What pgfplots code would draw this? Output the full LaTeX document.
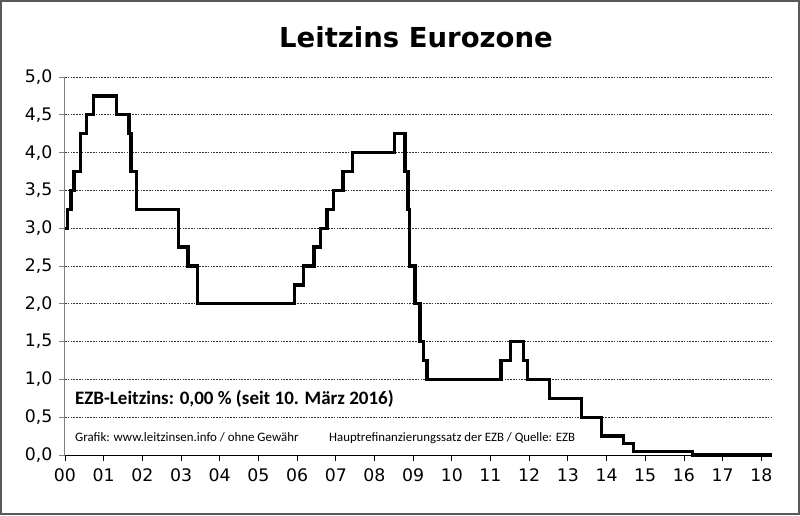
\documentclass[border=0pt]{standalone}
\usepackage{pgfplots}
\pgfplotsset{compat=1.18}
\usepackage{fontspec}
\setmainfont{DejaVu Sans}
\newfontfamily\carlito{Carlito}
\begin{document}
\begin{tikzpicture}[x=1pt,y=1pt]
\useasboundingbox (0,0) rectangle (800,515);
\fill[white] (0,0) rectangle (800,515);
\draw[black!65, line width=1.2pt] (1,1) rectangle (799,514);
\begin{axis}[
  at={(65pt,60pt)}, anchor=south west,
  scale only axis, width=706.7pt, height=378pt,
  xmin=0, xmax=18.27, ymin=0, ymax=5,
  axis x line*=bottom, axis y line*=left,
  x axis line style={black, line width=1pt, -},
  y axis line style={black!50, line width=1pt, -},
  tick align=outside, major tick length=6pt,
  xtick={0,1,2,3,4,5,6,7,8,9,10,11,12,13,14,15,16,17,18},
  xticklabels={00,01,02,03,04,05,06,07,08,09,10,11,12,13,14,15,16,17,18},
  ytick={0,0.5,1,1.5,2,2.5,3,3.5,4,4.5,5},
  xtick style={black, line width=0.8pt},
  ytick style={black!50, line width=0.8pt},
  ymajorgrids,
  major grid style={black!80, line width=0.9pt, dash pattern=on 1.6pt off 1.2pt},
  /pgf/number format/.cd, fixed, fixed zerofill, precision=1, use comma, assume math mode=true,
  /pgfplots/.cd,
  tick label style={font=\fontsize{17.3}{19}\selectfont, text=black},
  yticklabel style={xshift=-3pt},
  xticklabel style={yshift=-4.5pt},
  clip=false,
]
\addplot[const plot, black, line width=3.3pt, line join=miter] coordinates {
(0,3.00)
(0.06,3.25)
(0.155,3.50)
(0.23,3.75)
(0.405,4.25)
(0.56,4.50)
(0.73,4.75)
(1.34,4.50)
(1.655,4.25)
(1.71,3.75)
(1.85,3.25)
(2.93,2.75)
(3.18,2.50)
(3.43,2.00)
(5.93,2.25)
(6.17,2.50)
(6.44,2.75)
(6.60,3.00)
(6.77,3.25)
(6.94,3.50)
(7.19,3.75)
(7.44,4.00)
(8.52,4.25)
(8.79,3.75)
(8.87,3.25)
(8.91,2.50)
(9.045,2.00)
(9.18,1.50)
(9.27,1.25)
(9.36,1.00)
(11.27,1.25)
(11.52,1.50)
(11.85,1.25)
(11.95,1.00)
(12.52,0.75)
(13.36,0.50)
(13.87,0.25)
(14.44,0.15)
(14.70,0.05)
(16.22,0.00)
(18.27,0.00)
};
\end{axis}
\node[anchor=base, font=\bfseries\fontsize{27.5}{30}\selectfont] at (416,467) {Leitzins Eurozone};
\node[anchor=base west, inner sep=0pt, font=\carlito\bfseries\fontsize{19}{21}\selectfont] at (75,111) {EZB-Leitzins: 0,00 \% (seit 10. März 2016)};
\node[anchor=base west, inner sep=0pt, font=\carlito\fontsize{12.9}{15}\selectfont] at (75,74) {Grafik: www.leitzinsen.info / ohne Gewähr};
\node[anchor=base west, inner sep=0pt, font=\carlito\fontsize{12.8}{15}\selectfont] at (329,74) {Hauptrefinanzierungssatz der EZB / Quelle: EZB};
\end{tikzpicture}
\end{document}
